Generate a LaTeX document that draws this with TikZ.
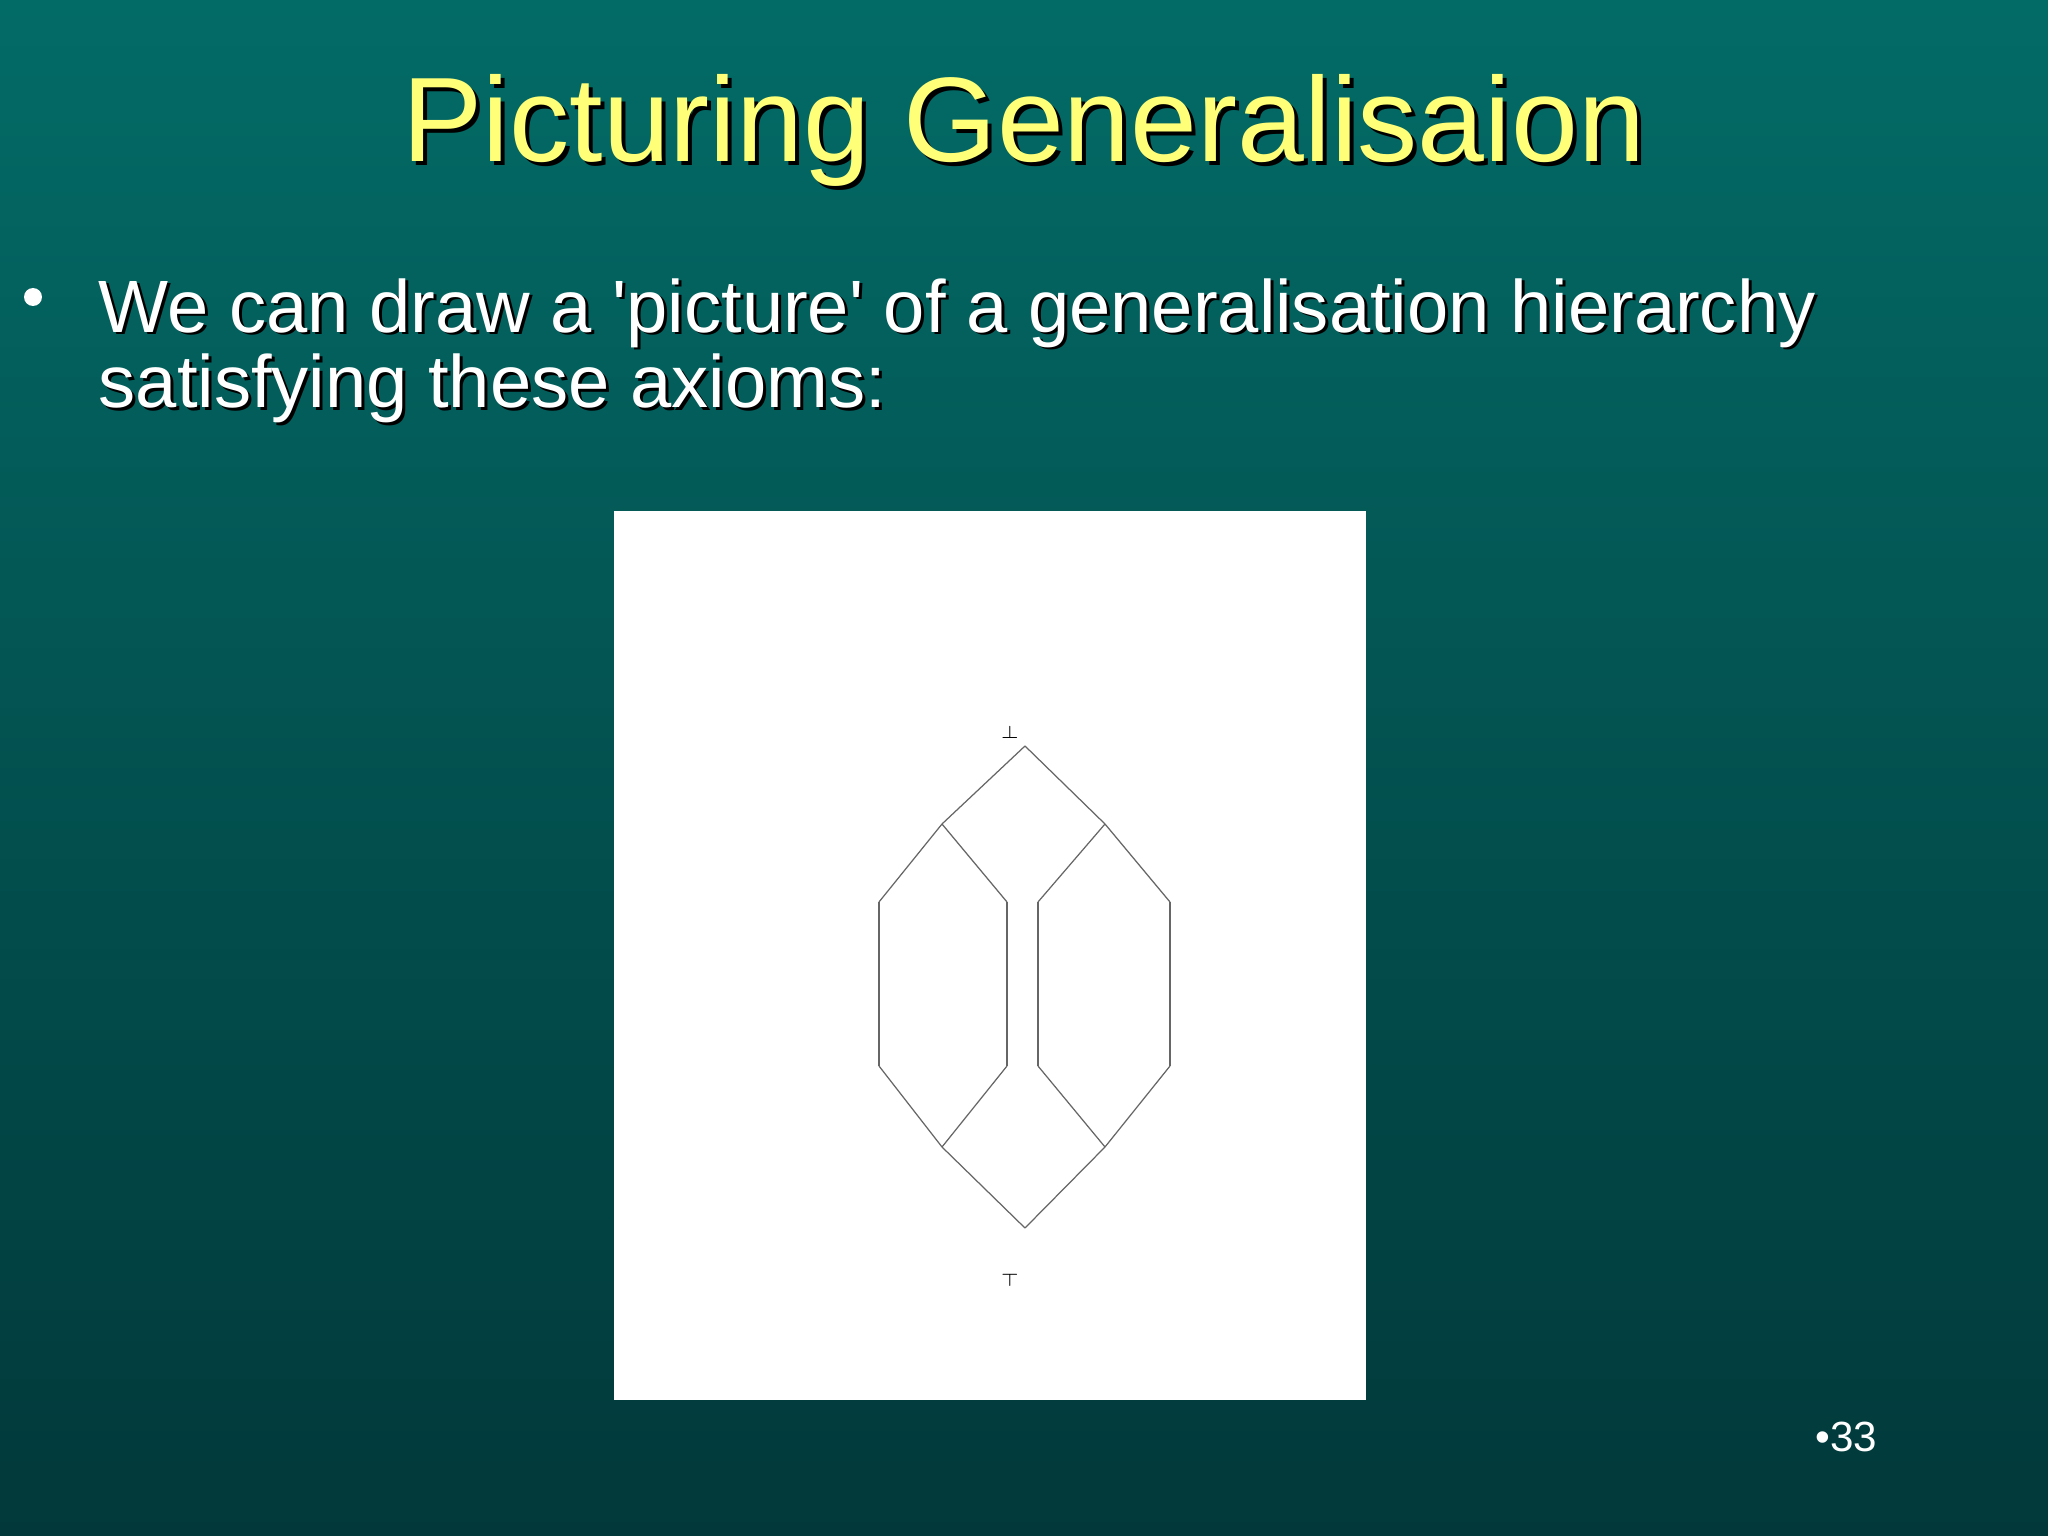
\documentclass[tikz,border=0pt]{standalone}
\usepackage{fontspec}
\setmainfont{Liberation Sans}
\usetikzlibrary{positioning}

\definecolor{slidetop}{RGB}{3,107,102}
\definecolor{slidebot}{RGB}{2,56,58}
\definecolor{titleyellow}{RGB}{255,255,120}

\tikzset{
  lattice/.style={draw=black!60, line width=0.35pt},
  lbl/.style={inner sep=0pt, font=\fontsize{4.5}{5}\selectfont},
  titletxt/.style={anchor=base, inner sep=0pt, font=\fontsize{34.2}{36}\selectfont},
  bodytxt/.style={anchor=base west, inner sep=0pt, font=\fontsize{21.1}{24}\selectfont}
}

\begin{document}
\begin{tikzpicture}
\useasboundingbox (0,0) rectangle (20.48,-15.36);
\shade[top color=slidetop, bottom color=slidebot] (0,0) rectangle (20.48,-15.36);

% title and text
\node[titletxt, black] (titleshadow) at (10.28,-1.66) {Picturing Generalisaion};
\node[titletxt, titleyellow] (title) at (10.24,-1.62) {Picturing Generalisaion};
\fill[white] (0.33,-2.97) circle (0.09);
\node[bodytxt, black] (lineashadow) at (1.01,-3.35) {We can draw a \textquotesingle picture\textquotesingle{} of a generalisation hierarchy};
\node[bodytxt, white] (linea) at (0.98,-3.32) {We can draw a \textquotesingle picture\textquotesingle{} of a generalisation hierarchy};
\node[bodytxt, black] (linebshadow) at (1.01,-4.11) {satisfying these axioms:};
\node[bodytxt, white] (lineb) at (0.98,-4.08) {satisfying these axioms:};
\node[anchor=base west, inner sep=0pt, white, font=\fontsize{12}{14}\selectfont] (pagenum) at (18.15,-14.51) {\textbullet33};

% the picture
\fill[white] (6.14,-5.11) rectangle (13.66,-14.00);
\coordinate (top) at (10.25,-7.46);
\coordinate[below left=0.78cm and 0.83cm of top] (ul);
\coordinate[below right=0.78cm and 0.80cm of top] (ur);
\coordinate[below left=0.78cm and 0.63cm of ul] (lo);
\coordinate[below right=0.78cm and 0.65cm of ul] (li);
\coordinate[below left=0.78cm and 0.67cm of ur] (ri);
\coordinate[below right=0.78cm and 0.65cm of ur] (ro);
\coordinate[below=1.64cm of lo] (lob);
\coordinate[below=1.64cm of li] (lib);
\coordinate[below=1.64cm of ri] (rib);
\coordinate[below=1.64cm of ro] (rob);
\coordinate[below right=0.81cm and 0.63cm of lob] (ll);
\coordinate[below left=0.81cm and 0.65cm of rob] (lr);
\coordinate[below right=0.81cm and 0.83cm of ll] (bot);
\node[lbl, above left=0.07cm and 0.05cm of top] (bottom) {$\bot$};
\node[lbl, below left=0.46cm and 0.05cm of bot] (topel) {$\top$};
\path (top) edge[lattice] (ul);
\path (top) edge[lattice] (ur);
\path (ul) edge[lattice] (lo);
\path (ul) edge[lattice] (li);
\path (ur) edge[lattice] (ri);
\path (ur) edge[lattice] (ro);
\path (lo) edge[lattice] (lob);
\path (li) edge[lattice] (lib);
\path (ri) edge[lattice] (rib);
\path (ro) edge[lattice] (rob);
\path (lob) edge[lattice] (ll);
\path (lib) edge[lattice] (ll);
\path (rib) edge[lattice] (lr);
\path (rob) edge[lattice] (lr);
\path (ll) edge[lattice] (bot);
\path (lr) edge[lattice] (bot);
\end{tikzpicture}
\end{document}
